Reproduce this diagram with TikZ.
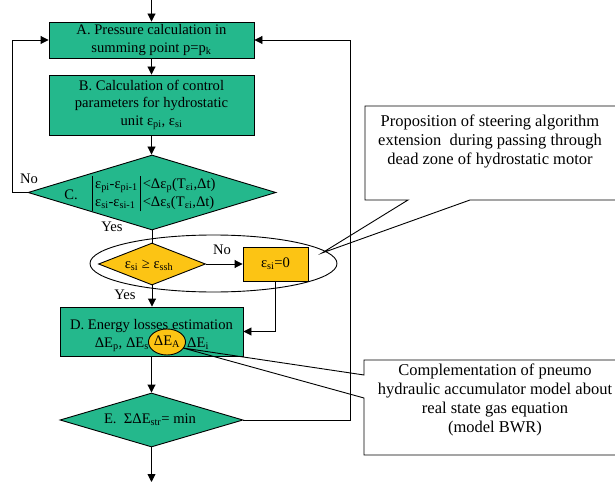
\documentclass[tikz,border=0pt]{standalone}
\usepackage{fontspec}
\setmainfont{Liberation Serif}
\usetikzlibrary{shapes.geometric,arrows.meta}
\definecolor{fgreen}{RGB}{36,184,140}
\definecolor{fyellow}{RGB}{252,196,20}
\begin{document}
\begin{tikzpicture}[x=1pt,y=-1pt,
  every node/.style={font=\fontsize{14.6}{17.5}\selectfont},
  greenbox/.style={draw=black,fill=fgreen,line width=0.9pt,align=center,inner sep=0pt},
  greendia/.style={draw=black,fill=fgreen,line width=0.9pt,diamond,inner sep=0pt},
  yellowdia/.style={draw=black,fill=fyellow,line width=0.9pt,diamond,inner sep=0pt},
  yellowbox/.style={draw=black,fill=fyellow,line width=0.9pt,inner sep=0pt},
  flow/.style={draw=black,line width=0.9pt},
  arr/.style={flow,-{Triangle[length=8pt,width=8pt]}},
  callout/.style={draw=black,line width=0.9pt},
  callouttext/.style={inner sep=0pt,align=center,font=\fontsize{16.5}{19}\selectfont},
  lbl/.style={inner sep=0pt}]
\useasboundingbox (0,0) rectangle (615,486);
\clip (0,0) rectangle (615,486);

% main boxes
\node[greenbox,minimum width=205pt,minimum height=36pt] (A) at (151.5,40)
  {A. Pressure calculation in\\summing point p=p\textsubscript{k}};
\node[greenbox,minimum width=205pt,minimum height=60pt] (B) at (151.5,105)
  {B. Calculation of control\\parameters for hydrostatic\\unit ε\textsubscript{pi}, ε\textsubscript{si}};
\node[greendia,minimum width=248pt,minimum height=75pt] (C) at (152,192.5) {};
\node[lbl] (Cl) at (71,195) {C.};
\node[lbl] (Ct) at (154,194) {\begin{tabular}{@{}|@{\,}l@{\,}|@{\,}l@{}}
 ε\textsubscript{pi}-ε\textsubscript{pi-1} & <Δε\textsubscript{p}(T\textsubscript{εi},Δt)\\
 ε\textsubscript{si}-ε\textsubscript{si-1} & <Δε\textsubscript{s}(T\textsubscript{εi},Δt)
 \end{tabular}};

\node[yellowdia,minimum width=107pt,minimum height=42pt] (Y) at (152,264) {};
\node[lbl] (Yt) at (149,265) {ε\textsubscript{si} ≥ ε\textsubscript{ssh}};
\node[yellowbox,minimum width=65pt,minimum height=34pt] (Z) at (275.5,264) {ε\textsubscript{si}=0};
\node[draw=black,line width=0.9pt,ellipse,minimum width=247pt,minimum height=57pt,inner sep=0pt] (El) at (213.5,263.5) {};

\node[greenbox,minimum width=183pt,minimum height=49pt] (D) at (151.5,331.5) {};
\node[lbl,anchor=base] (D1) at (151.5,329) {D. Energy losses estimation};
\node[lbl,anchor=base east] (D2) at (149,347) {ΔE\textsubscript{p}, ΔE\textsubscript{s}};
\node[draw=black,line width=0.9pt,fill=fyellow,ellipse,minimum width=36pt,minimum height=26pt,inner sep=0pt] (EA) at (167,342) {ΔE\textsubscript{A}};
\node[lbl,anchor=base west] (D3) at (187,347) {ΔE\textsubscript{i}};

\node[greendia,minimum width=183pt,minimum height=54pt] (E) at (151.5,420) {};
\node[lbl] (Et) at (150,420) {E.\ \ ΣΔE\textsubscript{str}= min};

% labels
\node[lbl] (no1) at (29,179) {No};
\node[lbl] (yes1) at (112,227) {Yes};
\node[lbl] (no2) at (222,250) {No};
\node[lbl] (yes2) at (125,295) {Yes};

% connectors
\coordinate (top) at (151.5,0);
\coordinate (bot) at (151.5,482);
\coordinate (R) at (350,40);
\coordinate (L) at (12,192.5);
\draw[arr] (top) -- (A.north);
\draw[arr] (A.south) -- (B.north);
\draw[arr] (B.south) -- (B.south |- C.north);
\draw[arr] (C.west) -- (L) |- (A.west);
\draw[flow] (C.south) -- (Y.north);
\draw[arr] (Y.east) -- (Z.west);
\draw[arr] (Y.south) -- (Y.south |- D.north);
\draw[arr] (Z.south) |- (D.east);
\draw[arr] (D.south) -- (E.north);
\draw[arr] (E.east) -| (R) -- (A.east);
\draw[arr] (E.south) -- (bot);

% callouts
\coordinate (t1) at (322,253);
\draw[callout] (365,106) -- (625,106) -- (625,200) -- (470,200) -- (t1) -- (408,200) -- (365,200) -- cycle;
\node[callouttext] (P1) at (490,141) {Proposition of steering algorithm\\extension\ \ during passing through\\dead zone of hydrostatic motor};
\coordinate (t2) at (183,348);
\draw[callout] (364,360) -- (625,360) -- (625,455) -- (364,455) -- (364,398) -- (t2) -- (364,375) -- cycle;
\node[callouttext] (P2) at (495,400) {Complementation of pneumo\\hydraulic accumulator model about\\real state gas equation\\(model BWR)};
\end{tikzpicture}
\end{document}
